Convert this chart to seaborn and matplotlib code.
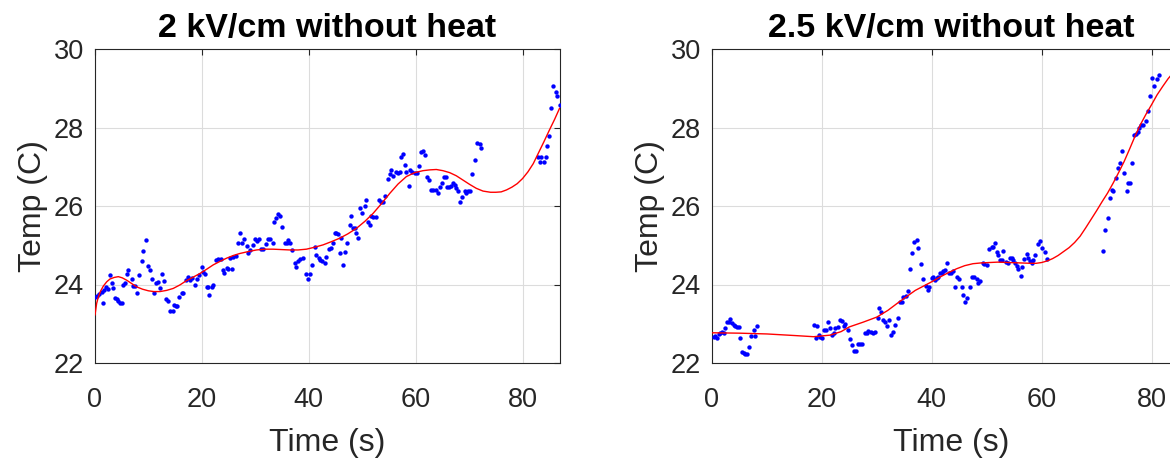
import numpy as np
import pandas as pd
import matplotlib
matplotlib.use("Agg")
import matplotlib.pyplot as plt
import seaborn as sns

# ---- data ----
# panel 1: 2 kV/cm, measured points
t_2kv = [0.00, 0.44, 0.81, 1.25, 1.43, 1.68, 2.06, 2.49, 2.80, 3.12, 3.43, 3.74, 4.05, 4.36, 4.67, 4.98,
         5.30, 5.61, 5.92, 6.23, 6.85, 7.17, 7.48, 7.79, 8.29, 8.72, 9.03, 9.53, 9.97, 10.28, 10.59, 11.03,
         11.40, 11.84, 12.15, 12.46, 12.90, 13.27, 13.71, 14.02, 14.52, 14.83, 15.14, 15.39, 15.76, 16.20,
         16.51, 17.01, 17.32, 17.76, 18.07, 18.69, 19.00, 19.50, 19.94, 20.25, 20.56, 20.87, 21.18, 21.37,
         21.81, 22.12, 22.62, 23.05, 23.49, 23.86, 24.17, 24.61, 24.92, 25.23, 25.55, 25.86, 26.36, 26.79,
         27.10, 27.41, 27.85, 28.35, 28.66, 28.97, 29.47, 29.91, 30.22, 30.65, 31.15, 31.46, 31.96, 32.40,
         32.71, 33.21, 33.46, 33.83, 34.27, 34.58, 35.08, 35.51, 35.83, 36.14, 36.45, 36.95, 37.38, 37.69,
         38.01, 38.44, 38.94, 39.44, 39.88, 40.19, 40.69, 41.12, 41.43, 41.87, 42.18, 42.55, 42.99, 43.30,
         43.80, 44.24, 44.55, 44.86, 45.17, 45.48, 45.79, 46.11, 46.42, 46.73, 47.17, 47.66, 47.98, 48.29,
         48.60, 48.91, 49.22, 49.53, 50.03, 50.47, 50.78, 51.09, 51.40, 51.71, 52.02, 52.65, 53.15, 53.58,
         53.89, 54.21, 54.83, 55.14, 55.45, 55.76, 56.26, 56.70, 57.01, 57.32, 57.63, 57.94, 58.26, 58.75,
         59.00, 59.38, 59.81, 60.25, 60.62, 61.06, 61.37, 61.68, 62.12, 62.49, 62.93, 63.24, 63.74, 64.17,
         64.49, 64.98, 65.23, 65.61, 65.86, 66.23, 66.67, 66.98, 67.29, 67.60, 67.91, 68.22, 68.72, 69.16,
         69.47, 69.78, 70.22, 70.59, 71.03, 71.46, 71.96, 72.27, 82.87, 83.18, 83.49, 83.93, 84.30, 84.55,
         84.92, 85.36, 85.67, 86.17, 86.42, 86.92]
temp_2kv = [23.69, 23.71, 23.76, 23.80, 23.54, 23.86, 23.94, 23.88, 24.24, 24.03, 23.90, 23.65, 23.62, 23.59,
            23.54, 23.54, 23.99, 24.03, 24.26, 24.37, 24.13, 23.96, 23.96, 23.78, 24.24, 24.61, 24.86, 25.13,
            24.47, 24.37, 24.13, 23.78, 24.03, 24.07, 23.90, 24.26, 24.10, 23.62, 23.59, 23.33, 23.33, 23.48,
            23.46, 23.46, 23.69, 23.78, 23.79, 24.11, 24.20, 24.11, 24.16, 23.99, 24.13, 24.24, 24.45, 24.33,
            24.28, 23.94, 23.93, 23.73, 23.94, 23.99, 24.62, 24.65, 24.65, 24.37, 24.30, 24.41, 24.40, 24.67,
            24.40, 24.69, 24.73, 25.07, 25.30, 25.05, 25.15, 24.98, 24.79, 24.88, 25.01, 25.15, 25.12, 25.15,
            24.90, 24.90, 25.03, 25.15, 25.15, 25.05, 25.58, 25.69, 25.80, 25.75, 25.46, 25.05, 25.05, 25.13,
            25.05, 24.88, 24.56, 24.45, 24.61, 24.64, 24.67, 24.27, 24.15, 24.28, 24.50, 24.95, 24.75, 24.67,
            24.62, 24.61, 24.56, 24.71, 24.90, 24.92, 25.05, 25.30, 25.32, 25.29, 24.79, 25.18, 24.50, 24.84,
            25.05, 25.52, 25.74, 25.43, 25.43, 25.30, 25.18, 25.94, 25.81, 26.00, 26.15, 25.58, 25.52, 25.74,
            25.73, 25.73, 26.15, 26.09, 26.09, 26.25, 26.68, 26.81, 26.92, 26.76, 26.87, 26.85, 26.87, 27.26,
            27.33, 27.04, 26.87, 26.51, 26.92, 26.87, 26.83, 26.85, 27.02, 27.38, 27.41, 27.30, 26.75, 26.65,
            26.41, 26.42, 26.42, 26.32, 26.49, 26.59, 26.73, 26.73, 26.49, 26.49, 26.51, 26.59, 26.54, 26.45,
            26.37, 26.11, 26.24, 26.37, 26.32, 26.39, 26.37, 26.81, 27.17, 27.61, 27.58, 27.47, 27.26, 27.13,
            27.26, 27.13, 27.26, 27.53, 27.78, 28.49, 29.06, 28.91, 28.79, 28.57]

# panel 1: fitted curve
fit_t_2kv = [0.00, 0.31, 0.62, 1.00, 1.56, 2.20, 2.80, 3.60, 4.36, 5.10, 5.92, 6.80, 7.79, 8.90, 9.97, 11.00,
             12.15, 13.40, 14.64, 15.90, 17.13, 18.40, 19.63, 20.90, 22.12, 23.40, 24.61, 25.90, 27.10, 28.70,
             30.22, 31.80, 33.33, 34.90, 36.45, 38.00, 39.56, 41.10, 42.68, 44.20, 45.79, 47.30, 48.91, 50.50,
             52.02, 53.60, 55.14, 56.70, 58.26, 59.80, 61.37, 62.60, 63.86, 65.10, 66.36, 67.60, 68.85, 70.10,
             71.34, 72.60, 74.00, 75.00, 76.00, 77.00, 78.00, 79.00, 80.00, 81.00, 82.00, 83.00, 84.00, 85.00,
             86.00, 86.92]
fit_temp_2kv = [23.22, 23.52, 23.68, 23.82, 23.96, 24.07, 24.14, 24.18, 24.20, 24.17, 24.11, 24.03, 23.94,
                23.88, 23.84, 23.82, 23.82, 23.85, 23.90, 23.99, 24.10, 24.19, 24.28, 24.39, 24.50, 24.59,
                24.67, 24.74, 24.79, 24.84, 24.88, 24.90, 24.90, 24.89, 24.88, 24.88, 24.90, 24.95, 25.01,
                25.09, 25.18, 25.29, 25.43, 25.61, 25.81, 26.06, 26.32, 26.56, 26.75, 26.85, 26.90, 26.92,
                26.93, 26.90, 26.85, 26.77, 26.66, 26.55, 26.45, 26.38, 26.35, 26.35, 26.36, 26.41, 26.48,
                26.57, 26.70, 26.87, 27.08, 27.36, 27.64, 27.93, 28.21, 28.49]

# panel 2: 2.5 kV/cm, measured points
t_25kv = [0.30, 0.61, 0.91, 1.21, 1.52, 1.82, 2.12, 2.42, 2.73, 3.03, 3.33, 3.64, 3.94, 4.24, 4.55, 4.85,
          5.15, 5.45, 5.76, 6.06, 6.36, 6.67, 7.15, 7.58, 7.88, 8.18,
          18.48, 18.91, 19.09, 19.39, 19.70, 20.00, 20.30, 20.73, 21.09, 21.52, 21.82, 22.12, 22.42, 22.91,
          23.33, 23.64, 23.94, 24.24, 24.67, 25.03, 25.45, 25.76, 26.18, 26.55, 26.97, 27.39, 27.76, 28.18,
          28.48, 28.97, 29.39, 29.70, 30.18, 30.42, 30.79, 31.21, 31.52, 31.82, 32.24, 32.61, 33.03, 33.33,
          33.82, 34.24, 34.55, 34.85, 35.27, 35.76, 36.12, 36.48, 36.85, 37.27, 37.58, 38.00, 38.48, 38.91,
          39.27, 39.58, 40.00, 40.30, 40.61, 40.91, 41.21, 41.52, 41.82, 42.12, 42.42, 42.85, 43.15, 43.52,
          43.82, 44.24, 44.55, 44.97, 45.45, 45.76, 46.06, 46.36, 46.97, 47.27, 47.76, 48.18, 48.48, 48.79,
          49.27, 49.58, 50.00, 50.42, 50.91, 51.21, 51.52, 51.82, 52.12, 52.42, 52.73, 53.03, 53.45, 53.82,
          54.24, 54.55, 54.85, 55.15, 55.45, 55.76, 56.24, 56.48, 56.85, 57.27, 57.58, 57.88, 58.18, 58.48,
          58.79, 59.27, 59.70, 60.12, 60.61, 60.91,
          71.21, 71.52, 72.00, 72.42, 72.73, 73.03, 73.45, 73.82, 74.24, 74.67, 75.03, 75.45, 75.76, 76.06,
          76.48, 76.85, 77.09, 77.45, 77.70, 78.06, 78.48, 78.91, 79.39, 79.70, 80.12, 80.48, 80.91, 81.33]
temp_25kv = [22.65, 22.69, 22.63, 22.74, 22.76, 22.80, 22.77, 22.88, 23.05, 23.05, 23.11, 23.01, 22.97, 22.94,
             22.91, 22.91, 22.63, 22.29, 22.25, 22.23, 22.23, 22.42, 22.69, 22.84, 22.69, 22.93,
             22.97, 22.63, 22.93, 22.71, 22.67, 22.63, 22.84, 22.84, 23.05, 22.88, 22.71, 22.76, 22.88, 22.91,
             23.10, 23.08, 22.94, 22.99, 22.84, 22.60, 22.46, 22.31, 22.31, 22.48, 22.48, 22.48, 22.77, 22.77,
             22.82, 22.80, 22.77, 22.80, 23.14, 23.39, 23.31, 23.10, 23.05, 22.93, 23.10, 22.71, 22.80, 22.97,
             23.14, 23.56, 23.56, 23.69, 23.71, 23.84, 24.39, 24.81, 25.09, 25.13, 24.92, 24.52, 24.13, 23.96,
             23.86, 23.94, 24.16, 24.18, 24.11, 24.16, 24.20, 24.30, 24.30, 24.35, 24.37, 24.56, 24.30, 24.30,
             24.35, 23.94, 24.18, 24.13, 23.94, 23.73, 23.56, 23.65, 23.94, 24.20, 24.18, 24.13, 24.05, 24.10,
             24.56, 24.52, 24.50, 24.90, 24.95, 24.95, 25.05, 24.84, 24.75, 24.62, 24.62, 24.86, 24.58, 24.54,
             24.67, 24.67, 24.62, 24.56, 24.47, 24.39, 24.22, 24.44, 24.64, 24.78, 24.67, 24.61, 24.56, 24.62,
             24.75, 25.03, 25.12, 24.92, 24.83, 24.64,
             24.86, 25.39, 25.69, 26.20, 26.41, 26.37, 26.71, 26.96, 27.09, 27.41, 26.85, 26.39, 26.58, 26.58,
             27.10, 27.81, 27.83, 27.89, 27.98, 28.06, 28.06, 28.17, 28.43, 28.79, 29.25, 29.06, 29.23, 29.35]

# panel 2: fitted curve
fit_t_25kv = [0.00, 5.00, 10.00, 15.00, 18.50, 21.50, 23.50, 25.00, 27.50, 30.00, 32.00, 34.00, 35.50, 37.00,
              38.50, 40.00, 41.50, 43.00, 44.50, 46.00, 47.50, 49.00, 52.00, 56.00, 58.00, 59.00, 60.00,
              61.00, 62.00, 63.00, 64.00, 65.00, 66.00, 67.00, 68.00, 69.00, 70.00, 71.00, 72.00, 73.00,
              74.00, 75.00, 76.00, 77.00, 78.00, 79.00, 80.00, 81.00, 82.00, 83.00, 83.60]
fit_temp_25kv = [22.77, 22.76, 22.74, 22.70, 22.67, 22.71, 22.80, 22.92, 23.04, 23.17, 23.34, 23.55, 23.70,
                 23.85, 23.96, 24.07, 24.19, 24.30, 24.40, 24.48, 24.53, 24.55, 24.57, 24.55, 24.54, 24.54,
                 24.56, 24.60, 24.66, 24.74, 24.84, 24.94, 25.07, 25.23, 25.44, 25.66, 25.88, 26.11, 26.33,
                 26.58, 26.85, 27.13, 27.45, 27.78, 28.08, 28.34, 28.58, 28.83, 29.04, 29.24, 29.34]

titles = ["2 kV/cm without heat", "2.5 kV/cm without heat"]
xticks = [0, 20, 40, 60, 80]
yticks = [22, 24, 26, 28, 30]

# ---- style ----
sns.set_style("white")
plt.rcParams['font.family'] = ['Liberation Sans', 'DejaVu Sans']
txt = "#262626"

fig = plt.figure(figsize=(11.7, 4.58), dpi=100)
W, H = 1170, 458
# axes boxes in pixels: left, top, width, height
boxes = [(95, 49, 465, 314), (712, 49, 478, 314)]

panels = [(t_2kv, temp_2kv, fit_t_2kv, fit_temp_2kv),
          (t_25kv, temp_25kv, fit_t_25kv, fit_temp_25kv)]

for (l, t, w, h), (px, py, fx, fy), title in zip(boxes, panels, titles):
    ax = fig.add_axes([l / W, (H - t - h) / H, w / W, h / H])
    ax.grid(True, color="#dcdcdc", linewidth=0.8)
    ax.set_axisbelow(True)
    sns.scatterplot(x=px, y=py, ax=ax, color="#0000ff", s=10, linewidth=0, zorder=3)
    sns.lineplot(x=fx, y=fy, ax=ax, color="#ff0000", linewidth=1.0, errorbar=None, zorder=4)
    ax.set_xlim(0, 87)
    ax.set_ylim(22, 30)
    ax.set_xticks(xticks)
    ax.set_yticks(yticks)
    ax.tick_params(direction="in", length=4, width=0.8, colors=txt, labelsize=19.5,
                   top=True, right=True)
    ax.tick_params(axis="x", pad=17)
    ax.tick_params(axis="y", pad=8)
    for sp in ax.spines.values():
        sp.set_color(txt)
        sp.set_linewidth(0.8)
    ax.set_xlabel("Time (s)", fontsize=23, color=txt, labelpad=11)
    ax.set_ylabel("Temp (C)", fontsize=23, color=txt, labelpad=4)
    ax.set_title(title, fontsize=24.5, fontweight="bold", color="black", pad=9)

fig.savefig("out.png", dpi=100)
